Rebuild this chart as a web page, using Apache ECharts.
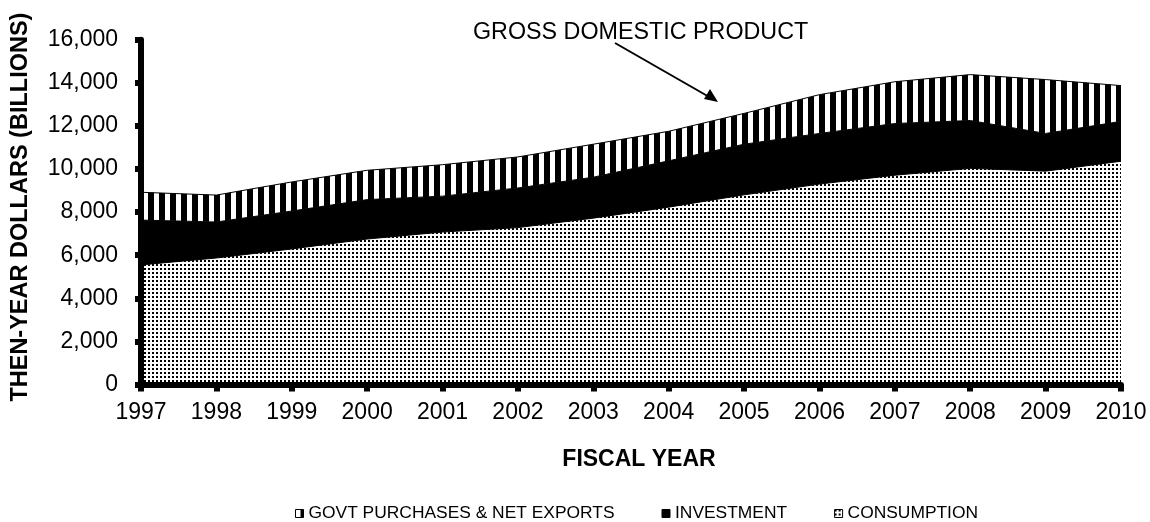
<!DOCTYPE html>
<html>
<head>
<meta charset="utf-8">
<script src="https://cdn.jsdelivr.net/npm/echarts@6/dist/echarts.min.js"></script>
<style>
html,body{margin:0;padding:0;background:#fff;}
#chart{width:1150px;height:522px;}
</style>
</head>
<body>
<div id="chart"></div>
<script>
// ---- data ----
const years = ['1997','1998','1999','2000','2001','2002','2003','2004','2005','2006','2007','2008','2009','2010'];
const consumption = [5550,5870,6290,6750,7075,7280,7720,8230,8800,9300,9710,10030,9900,10360];
const investment  = [2080,1670,1760,1830,1665,1840,1900,2150,2350,2350,2400,2220,1750,1850];
const govtNetExp  = [1290,1250,1350,1360,1460,1440,1530,1370,1430,1800,1940,2130,2500,1660];
const seriesNames = ['GOVT PURCHASES & NET EXPORTS','INVESTMENT','CONSUMPTION'];
const yTicks = [0,2000,4000,6000,8000,10000,12000,14000,16000];
const annotationText = 'GROSS DOMESTIC PRODUCT';

// ---- patterns ----
function stripeCanvas(){
  const c = document.createElement('canvas'); c.width = 11; c.height = 11;
  const g = c.getContext('2d');
  g.fillStyle = '#000'; g.fillRect(0,0,11,11);
  g.fillStyle = '#fff'; g.fillRect(0,0,5,11);
  return c;
}
function dotCanvas(){
  const c = document.createElement('canvas'); c.width = 4; c.height = 4;
  const g = c.getContext('2d');
  g.fillStyle = '#fff'; g.fillRect(0,0,4,4);
  g.fillStyle = '#000'; g.fillRect(0,0,2,2);
  return c;
}
const stripes = {image: stripeCanvas(), repeat: 'repeat'};
const dots = {image: dotCanvas(), repeat: 'repeat'};

const FONT = "'Liberation Sans', Arial, sans-serif";
const chart = echarts.init(document.getElementById('chart'));

function areaSeries(name, data, fill){
  return {
    name: name, type: 'line', stack: 'gdp', data: data,
    showSymbol: false, symbol: 'none',
    lineStyle: {color: '#000', width: 1},
    itemStyle: {color: fill, borderColor: '#000', borderWidth: 1},
    areaStyle: {color: fill, opacity: 1},
    emphasis: {disabled: true},
    z: 2
  };
}

chart.setOption({
  animation: false,
  backgroundColor: '#fff',
  textStyle: {fontFamily: FONT, color: '#000'},
  grid: {left: 141, right: 29, top: 39.7, bottom: 137.5, containLabel: false},
  legend: {
    left: 290, top: 500,
    icon: 'rect', itemWidth: 8, itemHeight: 8, itemGap: 47,
    textStyle: {fontFamily: FONT, fontSize: 17.4, color: '#000'},
    itemStyle: {borderColor: '#000', borderWidth: 1},
    data: seriesNames.map(n => ({name: n}))
  },
  xAxis: {
    type: 'category', data: years, boundaryGap: false,
    name: 'FISCAL YEAR', nameLocation: 'middle', nameGap: 64,
    nameTextStyle: {fontFamily: FONT, fontSize: 23, fontWeight: 'bold', color: '#000', padding: [0,0,0,16]},
    axisLine: {show: true, lineStyle: {color: '#000', width: 6}},
    axisTick: {show: true, alignWithLabel: true, length: 7, lineStyle: {color: '#000', width: 6}},
    axisLabel: {fontFamily: FONT, fontSize: 23, color: '#000', margin: 17},
    splitLine: {show: false},
    z: 5
  },
  yAxis: {
    type: 'value', min: yTicks[0], max: yTicks[yTicks.length-1], interval: 2000,
    name: 'THEN-YEAR DOLLARS (BILLIONS)', nameLocation: 'middle', nameGap: 108,
    nameTextStyle: {fontFamily: FONT, fontSize: 23.5, fontWeight: 'bold', color: '#000', padding: [0,0,0,10]},
    axisLine: {show: true, lineStyle: {color: '#000', width: 6}},
    axisTick: {show: true, length: 6, lineStyle: {color: '#000', width: 6}},
    axisLabel: {fontFamily: FONT, fontSize: 23, color: '#000', margin: 23,
      formatter: v => v.toLocaleString('en-US')},
    splitLine: {show: false},
    z: 5
  },
  series: [
    areaSeries(seriesNames[2], consumption, dots),
    areaSeries(seriesNames[1], investment, '#000'),
    areaSeries(seriesNames[0], govtNetExp, stripes)
  ],
  graphic: [
    {type: 'text', left: 473, top: 21, z: 10,
     style: {text: annotationText, font: '23.3px ' + FONT, fill: '#000'}},
    {type: 'line', z: 10, shape: {x1: 615, y1: 43, x2: 711, y2: 98},
     style: {stroke: '#000', lineWidth: 2}},
    {type: 'polygon', z: 10, shape: {points: [[718,102],[704,99],[710,89]]},
     style: {fill: '#000'}}
  ]
});
</script>
</body>
</html>
